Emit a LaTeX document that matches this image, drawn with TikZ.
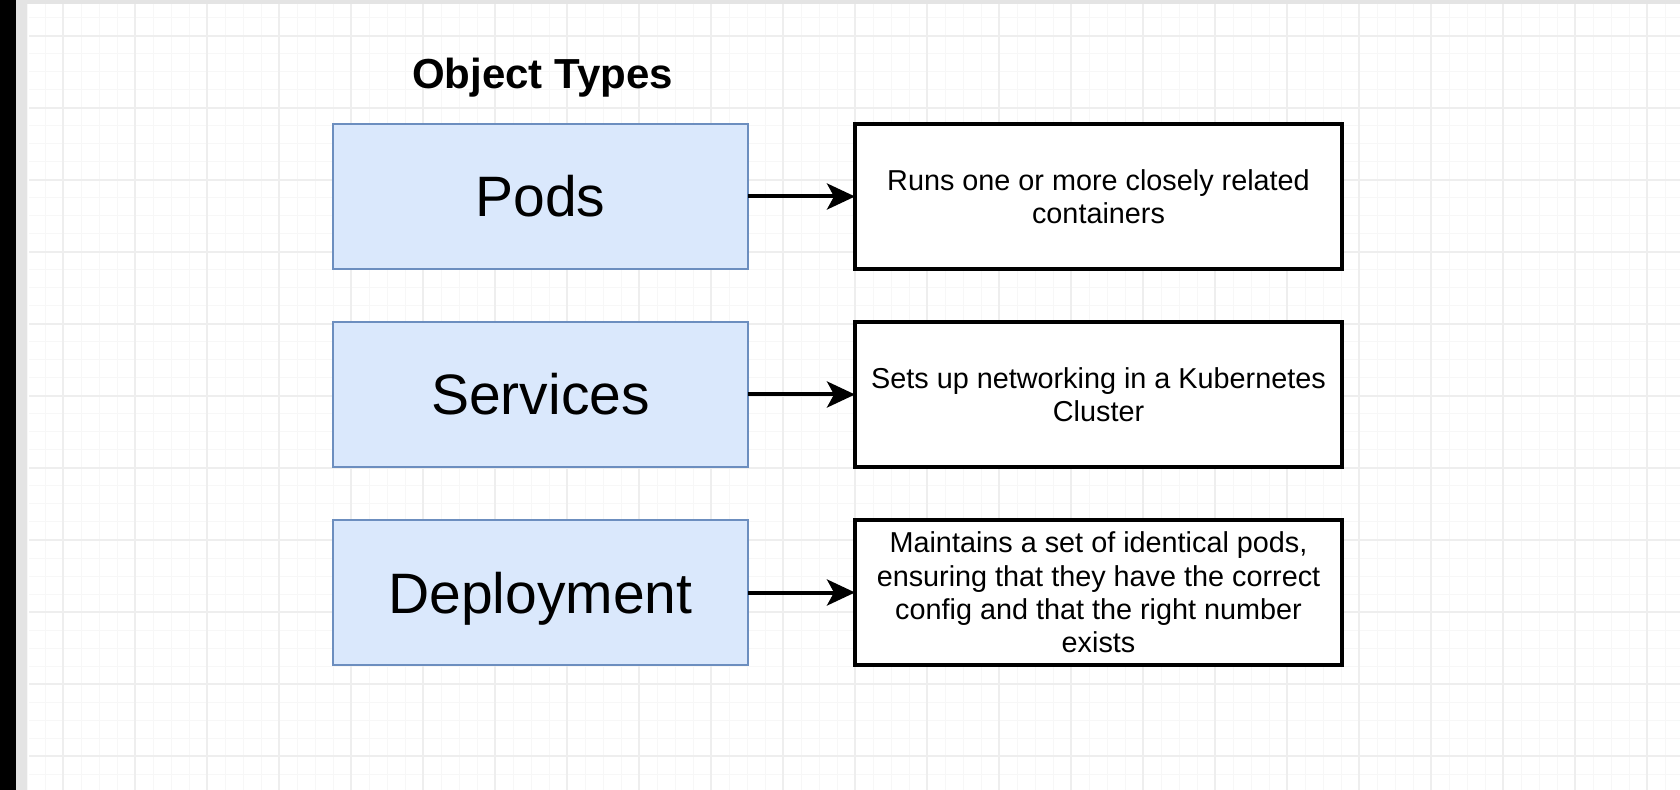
\documentclass[tikz,border=0pt]{standalone}
\usepackage{fontspec}
\setmainfont{Liberation Sans}
\usetikzlibrary{arrows.meta,positioning}
\definecolor{KindFill}{HTML}{DAE8FC}
\definecolor{KindLine}{HTML}{6C8EBF}
\definecolor{GridMinor}{HTML}{F7F7F7}
\definecolor{GridMajor}{HTML}{EEEEEE}
\definecolor{Edge}{HTML}{E4E4E4}

\begin{document}
\begin{tikzpicture}[
    x=0.5pt, y=-0.5pt,
    node distance=26.5pt and 53.5pt,
    kind/.style={
      draw=KindLine, fill=KindFill, line width=1pt, outer sep=0pt,
      minimum width=207.5pt, minimum height=72.5pt,
      font=\fontsize{28.5}{34}\selectfont, text height=20.5pt, text depth=0pt
    },
    desc/.style={
      draw=black, fill=white, line width=1.6pt, outer sep=0pt,
      minimum width=243.5pt, minimum height=72.5pt, align=center,
      font=\fontsize{14.4}{16.6}\selectfont
    },
    arr/.style={-{Stealth[length=14pt,width=13pt,inset=3.5pt]}, line width=2pt}
  ]
    \fill[white] (0,0) rectangle (1680,790);
    \useasboundingbox (0,0) rectangle (1680,790);

    % canvas grid
    \foreach \gx in {27,45,...,1680} \draw[GridMinor, line width=0.5pt] (\gx,4) -- (\gx,790);
    \foreach \gy in {18,36,...,790} \draw[GridMinor, line width=0.5pt] (29,\gy) -- (1680,\gy);
    \foreach \gx in {63,135,...,1680} \draw[GridMajor, line width=0.6pt] (\gx,4) -- (\gx,790);
    \foreach \gy in {36,108,...,790} \draw[GridMajor, line width=0.6pt] (29,\gy) -- (1680,\gy);
    \fill[black] (0,0) rectangle (16,790);
    \fill[Edge] (16,0) rectangle (27,790);
    \fill[Edge] (27,0) rectangle (1680,4);

    \node[font=\bfseries\fontsize{21}{25}\selectfont, anchor=base] (title) at (542.5,89) {Object Types};

    \node[kind] (pods) at (540.5,196.5) {Pods};
    \node[kind,below=of pods] (services) {Services};
    \node[kind,below=of services] (deploy) {Deployment};

    \node[desc,right=of pods] (podsdesc) {Runs one or more closely related\\containers};
    \node[desc,right=of services] (servicesdesc) {Sets up networking in a Kubernetes\\Cluster};
    \node[desc,right=of deploy] (deploydesc) {Maintains a set of identical pods,\\ensuring that they have the correct\\config and that the right number\\exists};

    \draw[arr] (pods) -- (podsdesc);
    \draw[arr] (services) -- (servicesdesc);
    \draw[arr] (deploy) -- (deploydesc);
  \end{tikzpicture}
\end{document}
